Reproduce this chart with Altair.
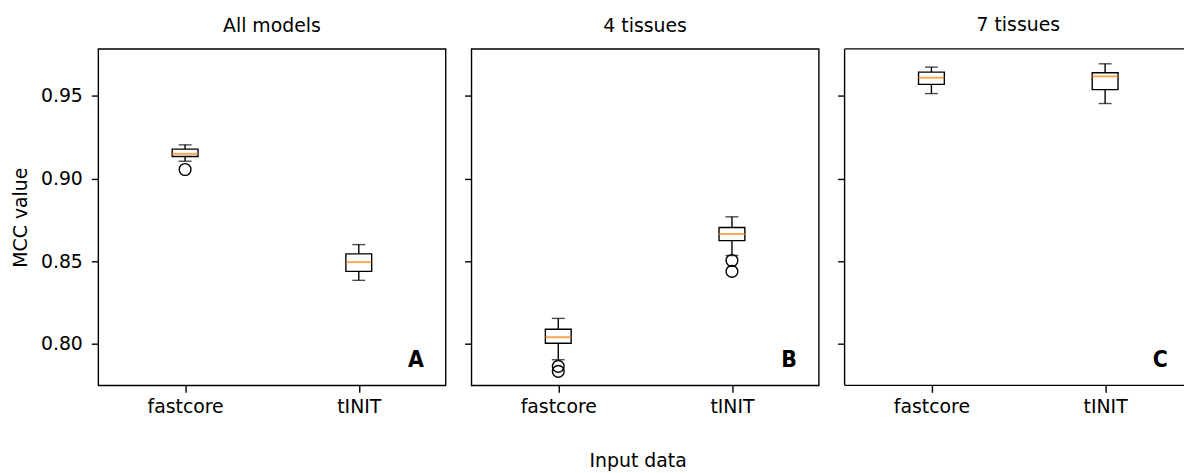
import altair as alt
import pandas as pd

panels = ["All models", "4 tissues", "7 tissues"]
letters = ["A", "B", "C"]
methods = ["fastcore", "tINIT"]
xlabel = ["Input data"]

# per panel: [fastcore, tINIT]
whisker_low = [[0.9105, 0.8385], [0.7905, 0.8535], [0.9514, 0.9454]]
q1 = [[0.9134, 0.8439], [0.8005, 0.8625], [0.9570, 0.9538]]
median = [[0.9150, 0.8495], [0.8041, 0.8665], [0.9610, 0.9618]]
q3 = [[0.9178, 0.8545], [0.8089, 0.8704], [0.9644, 0.9640]]
whisker_high = [[0.9204, 0.8601], [0.8155, 0.8769], [0.9674, 0.9694]]

outlier_panel = ["All models", "4 tissues", "4 tissues", "4 tissues", "4 tissues"]
outlier_method = ["fastcore", "fastcore", "fastcore", "tINIT", "tINIT"]
outlier_value = [0.9055, 0.7865, 0.7835, 0.8505, 0.8439]

y_ticks = [0.80, 0.85, 0.90, 0.95]
y_domain = [0.775, 0.9784]

rows = []
for i, p in enumerate(panels):
    for j, m in enumerate(methods):
        rows.append(dict(panel=p, method=m, lo=whisker_low[i][j], q1=q1[i][j],
                         med=median[i][j], q3=q3[i][j], hi=whisker_high[i][j]))
stats = pd.DataFrame(rows)
outl = pd.DataFrame(dict(panel=outlier_panel, method=outlier_method, value=outlier_value))

FONT = "DejaVu Sans"
FS = 19
H = 339
LW = 1.4


def panel(i, width, first):
    name = panels[i]
    s = stats[stats.panel == name]
    o = outl[outl.panel == name]
    xscale = alt.Scale(type="point", domain=methods, range=[87.5, 262.5], padding=0)
    xaxis = alt.Axis(title=None, labelAngle=0, domain=False, grid=False, tickSize=7,
                     tickColor="black", tickWidth=LW, labelFont=FONT, labelFontSize=FS,
                     labelColor="black", labelPadding=5)
    yscale = alt.Scale(domain=y_domain, nice=False, zero=False)
    if first:
        yaxis = alt.Axis(values=y_ticks, format=".2f", title="MCC value", grid=False,
                         domain=False, tickSize=7, tickColor="black", tickWidth=LW,
                         labelFont=FONT, labelFontSize=FS, labelColor="black",
                         labelPadding=9, titleFont=FONT, titleFontSize=FS,
                         titleFontWeight="normal", titleColor="black", titlePadding=10)
    else:
        yaxis = alt.Axis(values=y_ticks, labels=False, title=None, grid=False,
                         domain=False, tickSize=7, tickColor="black", tickWidth=LW)

    X = alt.X("method:N", scale=xscale, axis=xaxis)
    base = alt.Chart(s)
    whisk = base.mark_rule(color="black", strokeWidth=LW).encode(
        x=X, y=alt.Y("lo:Q", scale=yscale, axis=yaxis), y2="hi:Q")
    box = base.mark_bar(size=26, fill="white", stroke="black", strokeWidth=LW).encode(
        x=X, y=alt.Y("q1:Q", scale=yscale, axis=yaxis), y2="q3:Q")
    med = base.mark_tick(size=26, thickness=2, color="#ff7f0e").encode(
        x=X, y=alt.Y("med:Q", scale=yscale, axis=yaxis))
    cap_lo = base.mark_tick(size=13, thickness=LW, color="black").encode(
        x=X, y=alt.Y("lo:Q", scale=yscale, axis=yaxis))
    cap_hi = base.mark_tick(size=13, thickness=LW, color="black").encode(
        x=X, y=alt.Y("hi:Q", scale=yscale, axis=yaxis))
    layers = [whisk, box, med, cap_lo, cap_hi]
    if len(o):
        pts = alt.Chart(o).mark_point(shape="circle", filled=False, size=140,
                                      color="black", strokeWidth=LW, opacity=1).encode(
            x=X, y=alt.Y("value:Q", scale=yscale, axis=yaxis))
        layers.append(pts)
    ldf = pd.DataFrame(dict(letter=[letters[i]]))
    letter = alt.Chart(ldf).mark_text(
        font="DejaVu Sans Condensed, Liberation Sans Narrow, DejaVu Sans",
        fontWeight="bold", fontSize=23, align="center", baseline="alphabetic",
        color="black").encode(x=alt.value(320 if i < 2 else 318), y=alt.value(H - 19),
                              text="letter:N")
    layers.append(letter)
    if i == 1:
        xl = alt.Chart(pd.DataFrame(dict(label=xlabel))).mark_text(
            font=FONT, fontSize=FS, align="center", baseline="alphabetic",
            color="black").encode(x=alt.value(168), y=alt.value(H + 82), text="label:N")
        layers.append(xl)
    props = dict(width=width, height=H,
                 title=alt.TitleParams(text=name, font=FONT, fontSize=FS,
                                       fontWeight="normal", color="black",
                                       anchor="middle", baseline="alphabetic",
                                       offset=-2, dx=(350 - width) / 2))
    if i == 2:
        bdf = pd.DataFrame(dict(k=[0]))
        left = alt.Chart(bdf).mark_rule(color="black", strokeWidth=LW).encode(
            x=alt.value(0), y=alt.value(0), y2=alt.value(H))
        top = alt.Chart(bdf).mark_rule(color="black", strokeWidth=LW).encode(
            x=alt.value(0), x2=alt.value(width + 5), y=alt.value(0))
        bot = alt.Chart(bdf).mark_rule(color="black", strokeWidth=LW).encode(
            x=alt.value(0), x2=alt.value(width + 5), y=alt.value(H))
        layers += [left, top, bot]
        props["view"] = alt.ViewBackground(stroke="transparent")
    return alt.layer(*layers).properties(**props)


chart = alt.hconcat(
    panel(0, 350, True), panel(1, 350, False), panel(2, 337, False),
    spacing=26, bounds="flush",
).properties(
    padding={"left": 10, "top": 13.5, "right": 0, "bottom": 0},
    background="white",
).configure_view(stroke="black", strokeWidth=LW)

chart.save("out.html", embed_options={"renderer": "svg", "actions": False})
